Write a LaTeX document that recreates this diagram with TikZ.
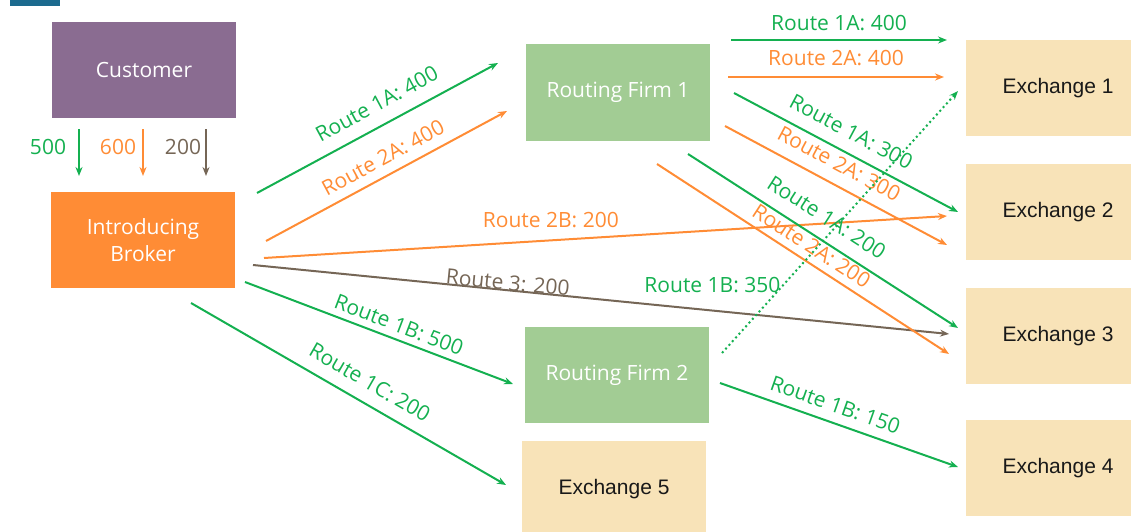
\documentclass[tikz,border=0pt]{standalone}
\usepackage{fontspec}
\setmainfont{Open Sans}
\newfontfamily\exfont{Liberation Sans}
\usetikzlibrary{arrows.meta}
\definecolor{cgreen}{HTML}{14B050}
\definecolor{corange}{HTML}{FF8C35}
\definecolor{cbrown}{HTML}{756656}
\definecolor{cpurple}{HTML}{8A6C91}
\definecolor{cfirm}{HTML}{A2CC94}
\definecolor{cexch}{HTML}{F8E3B8}
\definecolor{cblue}{HTML}{1C6A8E}
\begin{document}
\begin{tikzpicture}[x=1pt,y=-1pt,
  box/.style={minimum width=184pt, minimum height=96pt, inner sep=0pt,
    font=\fontsize{21}{27}\selectfont, text=white, align=center},
  exbox/.style={box, fill=cexch, text=black!90, font=\exfont\fontsize{21}{26}\selectfont},
  flow/.style={line width=2pt, -{Stealth[length=9pt,width=7pt]}},
  lbl/.style={font=\fontsize{21}{24}\selectfont, inner sep=2pt},
  qty/.style={font=\fontsize{21}{24}\selectfont, inner sep=0pt}]
\useasboundingbox (0,0) rectangle (1131,532);
\fill[cblue] (10,0) rectangle (60,6);

% parties
\node[box, fill=cpurple] (cust) at (144,70.5) {Customer};
\node[box, fill=corange] (ib) at (143,240) {Introducing\\Broker};
\node[box, fill=cfirm] (rf1) at (618,92.5) {Routing Firm 1};
\node[box, fill=cfirm] (rf2) at (617,375) {Routing Firm 2};
\node[exbox] (ex1) at (1058,88) {Exchange 1};
\node[exbox] (ex2) at (1058,212) {Exchange 2};
\node[exbox] (ex3) at (1058,336) {Exchange 3};
\node[exbox] (ex4) at (1058,468) {Exchange 4};
\node[exbox] (ex5) at (614,489) {Exchange 5};

% customer orders into the introducing broker
\coordinate (g0) at (79,129);  \coordinate (g1) at (79,176);
\coordinate (o0) at (143,129); \coordinate (o1) at (143,176);
\coordinate (b0) at (206,129); \coordinate (b1) at (206,176);
\draw[flow, cgreen]  (g0) -- (g1);
\draw[flow, corange] (o0) -- (o1);
\draw[flow, cbrown]  (b0) -- (b1);
\node[qty, text=cgreen]  (q500) at (48,147) {500};
\node[qty, text=corange] (q600) at (118,147) {600};
\node[qty, text=cbrown]  (q200) at (183,147) {200};

% introducing broker routes
\coordinate (r1a0) at (257,193); \coordinate (r1a1) at (498,63);
\coordinate (r2a0) at (266,241); \coordinate (r2a1) at (507,111);
\coordinate (r2b0) at (264,258); \coordinate (r2b1) at (947,216);
\coordinate (r30) at (253,265);  \coordinate (r31) at (949,334);
\coordinate (r1b0) at (245,282); \coordinate (r1b1) at (513,384);
\coordinate (r1c0) at (191,303); \coordinate (r1c1) at (506,485);
\draw[flow, cgreen] (r1a0) -- node[lbl, pos=0.54, sloped, above=11pt, text=cgreen] (l1) {Route 1A: 400} (r1a1);
\draw[flow, corange] (r2a0) -- node[lbl, pos=0.52, sloped, above=7pt, text=corange] (l2) {Route 2A: 400} (r2a1);
\draw[flow, corange] (r2b0) -- node[lbl, pos=0.42, above=10pt, text=corange] (l3) {Route 2B: 200} (r2b1);
\draw[flow, cbrown] (r30) -- node[lbl, pos=0.365, sloped, above=-3pt, text=cbrown] (l4) {Route 3: 200} (r31);
\draw[flow, cgreen] (r1b0) -- node[lbl, pos=0.555, sloped, above=4pt, text=cgreen] (l5) {Route 1B: 500} (r1b1);
\draw[flow, cgreen] (r1c0) -- node[lbl, pos=0.535, sloped, above=10pt, text=cgreen] (l6) {Route 1C: 200} (r1c1);

% routing firm 1 routes
\coordinate (s10) at (731,40);  \coordinate (s11) at (947,40);
\coordinate (s20) at (728,77);  \coordinate (s21) at (944,77);
\coordinate (s30) at (734,93);  \coordinate (s31) at (958,212);
\coordinate (s40) at (725,126); \coordinate (s41) at (947,245);
\coordinate (s50) at (688,154); \coordinate (s51) at (958,328);
\coordinate (s60) at (657,164); \coordinate (s61) at (949,354);
\draw[flow, cgreen] (s10) -- node[lbl, above=6pt, text=cgreen] (m1) {Route 1A: 400} (s11);
\draw[flow, corange] (s20) -- node[lbl, above=8pt, text=corange] (m2) {Route 2A: 400} (s21);
\draw[flow, cgreen] (s30) -- node[lbl, pos=0.48, sloped, above=10pt, text=cgreen] (m3) {Route 1A: 300} (s31);
\draw[flow, corange] (s40) -- node[lbl, pos=0.47, sloped, above=10pt, text=corange] (m4) {Route 2A: 300} (s41);
\draw[flow, cgreen] (s50) -- node[lbl, pos=0.47, sloped, above=11pt, text=cgreen] (m5) {Route 1A: 200} (s51);
\draw[flow, corange] (s60) -- node[lbl, pos=0.5, sloped, above=5pt, text=corange] (m6) {Route 2A: 200} (s61);

% routing firm 2 routes
\coordinate (t10) at (722,353); \coordinate (t11) at (958,91);
\coordinate (t20) at (720,383); \coordinate (t21) at (958,467);
\draw[flow, cgreen, dash pattern=on 2pt off 3pt] (t10) -- node[lbl, pos=0.26, left=0pt, text=cgreen] (n1) {Route 1B: 350} (t11);
\draw[flow, cgreen] (t20) -- node[lbl, pos=0.46, sloped, above=7pt, text=cgreen] (n2) {Route 1B: 150} (t21);
\end{tikzpicture}
\end{document}
